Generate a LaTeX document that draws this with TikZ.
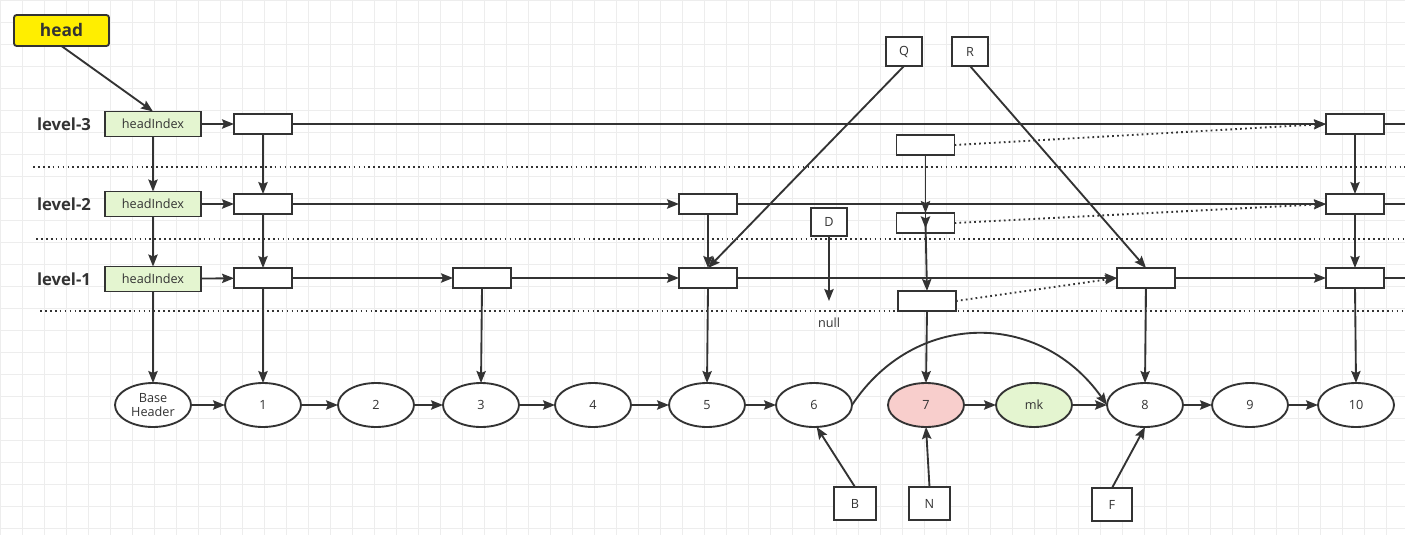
\documentclass[tikz,border=0pt]{standalone}
\usepackage{fontspec}
\setmainfont{Open Sans}
\usetikzlibrary{arrows.meta,shapes.geometric,calc}
\definecolor{ln}{HTML}{333333}
\definecolor{gridc}{HTML}{EDEDED}
\definecolor{headyellow}{HTML}{FFEE00}
\definecolor{hgreen}{HTML}{E4F5D0}
\definecolor{pinkfill}{HTML}{F8CECC}
\begin{document}
\begin{tikzpicture}[x=0.75pt,y=-0.75pt,
  every node/.style={inner sep=0pt,outer sep=0pt,text=ln},
  conn/.style={draw=ln,line width=1.4pt,-{Stealth[length=9pt,width=7pt,inset=1.5pt]}},
  plain/.style={draw=ln,line width=1.4pt},
  dots/.style={draw=ln,line width=1.5pt,dash pattern=on 1.3pt off 2.4pt},
  dotarrow/.style={draw=ln,line width=1.4pt,dash pattern=on 1.3pt off 2.4pt,-{Stealth[length=9pt,width=7pt,inset=1.5pt]}},
  cell/.style={draw=ln,line width=1.4pt,fill=white,minimum width=43.5pt,minimum height=15pt},
  hidx/.style={draw=ln,line width=1.4pt,fill=hgreen,minimum width=72pt,minimum height=18.75pt,font=\fontsize{9.5}{11}\selectfont},
  elli/.style={ellipse,draw=ln,line width=1.4pt,fill=white,minimum width=57pt,minimum height=33pt,font=\fontsize{9.5}{11}\selectfont,align=center},
  letter/.style={draw=ln,line width=1.4pt,fill=white,minimum width=29pt,minimum height=24pt,font=\fontsize{9.5}{11}\selectfont},
  lvl/.style={font=\bfseries\fontsize{12.5}{14}\selectfont},
]
\useasboundingbox (0,0) rectangle (1405,535);
\fill[white] (0,0) rectangle (1405,535);
% background grid
\foreach \i in {0,22,...,1405} \draw[gridc,line width=0.5pt] (\i,0) -- (\i,535);
\foreach \j in {0,22,...,535} \draw[gridc,line width=0.5pt] (0,\j) -- (1405,\j);

% dotted separators
\coordinate (s3a) at (33,167); \coordinate (s3b) at (1405,167);
\coordinate (s2a) at (36,239); \coordinate (s2b) at (1405,239);
\coordinate (s1a) at (40,311); \coordinate (s1b) at (1405,311);
\draw[dots] (s3a) -- (s3b);
\draw[dots] (s2a) -- (s2b);
\draw[dots] (s1a) -- (s1b);

% head
\node[draw=ln,line width=1.4pt,fill=headyellow,rounded corners=2pt,minimum width=71.25pt,minimum height=23.25pt,font=\bfseries\fontsize{13}{15}\selectfont] (head) at (61.5,30.5) {head};

% level labels
\node[lvl] (l3) at (64,124) {level-3};
\node[lvl] (l2) at (64,204) {level-2};
\node[lvl] (l1) at (64,279) {level-1};

% head indexes
\node[hidx] (hi3) at (153,124) {headIndex};
\node[hidx] (hi2) at (153,204) {headIndex};
\node[hidx] (hi1) at (153,279) {headIndex};

% index cells
\node[cell] (a3) at (263,124) {};
\node[cell] (a2) at (263,204) {};
\node[cell] (a1) at (263,278) {};
\node[cell] (c1) at (482,278) {};
\node[cell] (e2) at (708,204) {};
\node[cell] (e1) at (708,278) {};
\node[cell] (h1) at (1146,278) {};
\node[cell] (k3) at (1355,124) {};
\node[cell] (k2) at (1355,204) {};
\node[cell] (k1) at (1355,278) {};

% floating cells
\node[cell] (fa) at (925.5,145) {};
\node[cell] (fb) at (925.5,223) {};
\node[cell] (fc) at (927,301) {};

% edge ends
\coordinate (r3) at (1405,124);
\coordinate (r2) at (1405,204);
\coordinate (r1) at (1405,278);

% base list
\node[elli] (bh) at (153,405) {Base\\[-1pt]Header};
\node[elli] (n1) at (263,405) {1};
\node[elli] (n2) at (376,405) {2};
\node[elli] (n3) at (481,405) {3};
\node[elli] (n4) at (593,405) {4};
\node[elli] (n5) at (707,405) {5};
\node[elli] (n6) at (814,405) {6};
\node[elli,fill=pinkfill] (n7) at (926,405) {7};
\node[elli,fill=hgreen] (mk) at (1034,405) {mk};
\node[elli] (n8) at (1145,405) {8};
\node[elli] (n9) at (1250,405) {9};
\node[elli] (n10) at (1356,405) {10};

% letter boxes
\node[letter,minimum width=27pt,minimum height=21.75pt] (Q) at (904,51.5) {Q};
\node[letter,minimum width=27pt,minimum height=21.75pt] (R) at (970,51.5) {R};
\node[letter,minimum width=27pt,minimum height=21pt] (D) at (829,222) {D};
\node[letter,minimum width=31.5pt,minimum height=24.75pt] (B) at (855,503.5) {B};
\node[letter,minimum width=31pt,minimum height=24.75pt] (N) at (929.5,503.5) {N};
\node[letter,minimum width=30pt,minimum height=24.75pt] (F) at (1112,504.5) {F};

\coordinate (np) at (829,301);
\node[font=\fontsize{9.5}{11}\selectfont] (null) at (829,323) {null};

% head pointer
\draw[conn] (head.south) -- (hi3.north);

% level-3
\draw[conn] (hi3) -- (a3);
\draw[conn] (a3) -- (k3);
\draw[plain] (k3.east) -- (r3);
% level-2
\draw[conn] (hi2) -- (a2);
\draw[conn] (a2) -- (e2);
\draw[conn] (e2) -- (k2);
\draw[plain] (k2.east) -- (r2);
% level-1
\draw[conn] (hi1) -- (a1);
\draw[conn] (a1) -- (c1);
\draw[conn] (c1) -- (e1);
\draw[conn] (e1) -- (h1);
\draw[conn] (h1) -- (k1);
\draw[plain] (k1.east) -- (r1);

% verticals
\draw[conn] (hi3) -- (hi2);
\draw[conn] (hi2) -- (hi1);
\draw[conn] (hi1) -- (bh);
\draw[conn] (a3) -- (a2);
\draw[conn] (a2) -- (a1);
\draw[conn] (a1) -- (n1);
\draw[conn] (c1.south) -- (n3.north);
\draw[conn] (e2) -- (e1);
\draw[conn] (e1.south) -- (n5.north);
\draw[conn] (h1.south) -- (n8.north);
\draw[conn] (k3) -- (k2);
\draw[conn] (k2) -- (k1);
\draw[conn] (k1.south) -- (n10.north);

% floating cells
\draw[conn] (fa.south) -- (fb.north);
\draw[conn] (fb.north) -- ([yshift=-4pt]fb.center);
\draw[conn] (fb.center) -- (fc.north);
\draw[conn] (fc.south) -- (n7.north);
\draw[dotarrow] (fa.east) -- (k3.west);
\draw[dotarrow] (fb.east) -- (k2.west);
\draw[dotarrow] (fc.east) -- (h1.west);

% Q, R, D
\draw[conn] (Q.south) -- (e1.north);
\draw[conn] (R.south) -- (h1.north);
\draw[conn] (D.south) -- (np);

% base list links
\draw[conn] (bh) -- (n1);
\draw[conn] (n1) -- (n2);
\draw[conn] (n2) -- (n3);
\draw[conn] (n3) -- (n4);
\draw[conn] (n4) -- (n5);
\draw[conn] (n5) -- (n6);
\draw[conn] (n7) -- (mk);
\draw[conn] (mk) -- (n8);
\draw[conn] (n8) -- (n9);
\draw[conn] (n9) -- (n10);
\draw[conn] (n6.east) .. controls (915,310) and (1040,310) .. (n8.west);

% pointers from below
\draw[conn] (B.north) -- ([xshift=2pt]n6.south);
\draw[conn] (N.north) -- (n7.south);
\draw[conn] (F.north) -- (n8.south);
\end{tikzpicture}
\end{document}
